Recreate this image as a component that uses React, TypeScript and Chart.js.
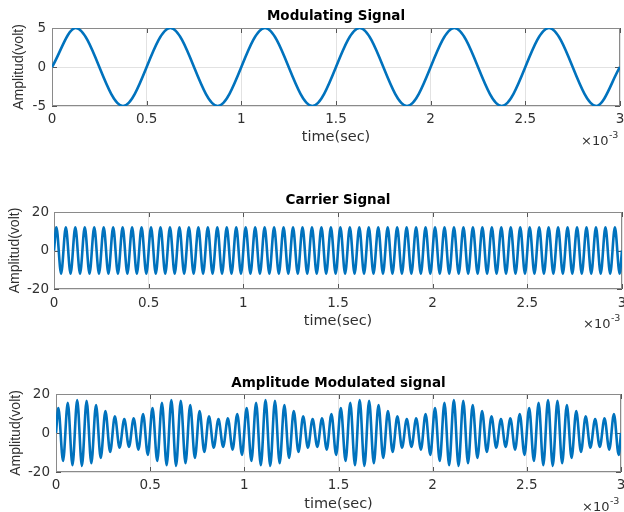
import React, { useEffect, useRef } from "react";
import { Chart, registerables } from "chart.js";

Chart.register(...registerables);

// ---------------- data (time in units of 1e-3 s) ----------------
const xTickValues = [0, 0.5, 1, 1.5, 2, 2.5, 3];
const xTickLabels = ["0", "0.5", "1", "1.5", "2", "2.5", "3"];
const modTickValues = [-5, 0, 5];
const modTickLabels = ["-5", "0", "5"];
const sigTickValues = [-20, 0, 20];
const sigTickLabels = ["-20", "0", "20"];

const titles = ["Modulating Signal", "Carrier Signal", "Amplitude Modulated signal"];
const xAxisLabel = "time(sec)";
const yAxisLabel = "Amplitud(volt)";

// Modulating signal: zero at start/end, peaks and troughs in between
const modTime = [0, 0.125, 0.375, 0.625, 0.875, 1.125, 1.375, 1.625, 1.875, 2.125, 2.375, 2.625, 2.875, 3];
const modValue = [0, 5, -5, 5, -5, 5, -5, 5, -5, 5, -5, 5, -5, 0];

// Carrier / AM: zero at the ends, every peak and trough in between
const timeMs = [
  0,
  0.0125, 0.0375, 0.0625, 0.0875,
  0.1125, 0.1375, 0.1625, 0.1875,
  0.2125, 0.2375, 0.2625, 0.2875,
  0.3125, 0.3375, 0.3625, 0.3875,
  0.4125, 0.4375, 0.4625, 0.4875,
  0.5125, 0.5375, 0.5625, 0.5875,
  0.6125, 0.6375, 0.6625, 0.6875,
  0.7125, 0.7375, 0.7625, 0.7875,
  0.8125, 0.8375, 0.8625, 0.8875,
  0.9125, 0.9375, 0.9625, 0.9875,
  1.0125, 1.0375, 1.0625, 1.0875,
  1.1125, 1.1375, 1.1625, 1.1875,
  1.2125, 1.2375, 1.2625, 1.2875,
  1.3125, 1.3375, 1.3625, 1.3875,
  1.4125, 1.4375, 1.4625, 1.4875,
  1.5125, 1.5375, 1.5625, 1.5875,
  1.6125, 1.6375, 1.6625, 1.6875,
  1.7125, 1.7375, 1.7625, 1.7875,
  1.8125, 1.8375, 1.8625, 1.8875,
  1.9125, 1.9375, 1.9625, 1.9875,
  2.0125, 2.0375, 2.0625, 2.0875,
  2.1125, 2.1375, 2.1625, 2.1875,
  2.2125, 2.2375, 2.2625, 2.2875,
  2.3125, 2.3375, 2.3625, 2.3875,
  2.4125, 2.4375, 2.4625, 2.4875,
  2.5125, 2.5375, 2.5625, 2.5875,
  2.6125, 2.6375, 2.6625, 2.6875,
  2.7125, 2.7375, 2.7625, 2.7875,
  2.8125, 2.8375, 2.8625, 2.8875,
  2.9125, 2.9375, 2.9625, 2.9875,
  3,
];

const carrierValue = [
  0,
  12, -12, 12, -12, 12, -12, 12, -12, 12, -12, 12, -12, 12, -12, 12, -12, 12, -12, 12, -12,
  12, -12, 12, -12, 12, -12, 12, -12, 12, -12, 12, -12, 12, -12, 12, -12, 12, -12, 12, -12,
  12, -12, 12, -12, 12, -12, 12, -12, 12, -12, 12, -12, 12, -12, 12, -12, 12, -12, 12, -12,
  12, -12, 12, -12, 12, -12, 12, -12, 12, -12, 12, -12, 12, -12, 12, -12, 12, -12, 12, -12,
  12, -12, 12, -12, 12, -12, 12, -12, 12, -12, 12, -12, 12, -12, 12, -12, 12, -12, 12, -12,
  12, -12, 12, -12, 12, -12, 12, -12, 12, -12, 12, -12, 12, -12, 12, -12, 12, -12, 12, -12,
  0,
];

const amValue = [
  0,
  12.8, -14.3, 15.5, -16.5, 16.9, -16.9, 16.5, -15.5, 14.3, -12.8,
  11.2, -9.7, 8.5, -7.5, 7.1, -7.1, 7.5, -8.5, 9.7, -11.2,
  12.8, -14.3, 15.5, -16.5, 16.9, -16.9, 16.5, -15.5, 14.3, -12.8,
  11.2, -9.7, 8.5, -7.5, 7.1, -7.1, 7.5, -8.5, 9.7, -11.2,
  12.8, -14.3, 15.5, -16.5, 16.9, -16.9, 16.5, -15.5, 14.3, -12.8,
  11.2, -9.7, 8.5, -7.5, 7.1, -7.1, 7.5, -8.5, 9.7, -11.2,
  12.8, -14.3, 15.5, -16.5, 16.9, -16.9, 16.5, -15.5, 14.3, -12.8,
  11.2, -9.7, 8.5, -7.5, 7.1, -7.1, 7.5, -8.5, 9.7, -11.2,
  12.8, -14.3, 15.5, -16.5, 16.9, -16.9, 16.5, -15.5, 14.3, -12.8,
  11.2, -9.7, 8.5, -7.5, 7.1, -7.1, 7.5, -8.5, 9.7, -11.2,
  12.8, -14.3, 15.5, -16.5, 16.9, -16.9, 16.5, -15.5, 14.3, -12.8,
  11.2, -9.7, 8.5, -7.5, 7.1, -7.1, 7.5, -8.5, 9.7, -11.2,
  0,
];

// ---------------- layout / style ----------------
const W = 624;
const H = 512;
const XH = 40;
const LINE_BLUE = "#0072BD";
const TEXT = "#303030";
const TICK_FONT = 13.5;
const XLABEL_FONT = 14.5;
const YLABEL_FONT = 14;
const TITLE_FONT = 13.5;

type Panel = {
  title: string;
  xs: number[];
  ys: number[];
  yMin: number;
  yMax: number;
  yTicks: number[];
  yLabels: string[];
  box: { l: number; r: number; t: number; b: number };
  titleMid: number;
  xTickPad: number;
  yTickPad: number;
  yTitlePad: number;
  xTitlePadBottom: number;
};

const panels: Panel[] = [
  {
    title: titles[0], xs: modTime, ys: modValue, yMin: -5, yMax: 5,
    yTicks: modTickValues, yLabels: modTickLabels,
    box: { l: 52, r: 620, t: 28, b: 106 },
    titleMid: 16.5, xTickPad: 4.9, yTickPad: 6, yTitlePad: 10.4, xTitlePadBottom: 0.3,
  },
  {
    title: titles[1], xs: timeMs, ys: carrierValue, yMin: -20, yMax: 20,
    yTicks: sigTickValues, yLabels: sigTickLabels,
    box: { l: 54, r: 622, t: 212, b: 289 },
    titleMid: 200.5, xTickPad: 5.9, yTickPad: 5, yTitlePad: 6.7, xTitlePadBottom: -0.7,
  },
  {
    title: titles[2], xs: timeMs, ys: amValue, yMin: -20, yMax: 20,
    yTicks: sigTickValues, yLabels: sigTickLabels,
    box: { l: 56, r: 621, t: 394, b: 472 },
    titleMid: 383.5, xTickPad: 4.9, yTickPad: 6, yTitlePad: 7.4, xTitlePadBottom: -0.7,
  },
];

const framePlugin = {
  id: "matlabFrame",
  beforeDatasetsDraw(chart: any) {
    const { ctx, chartArea: a, scales } = chart;
    ctx.save();
    ctx.lineWidth = 1;
    ctx.strokeStyle = "#555555";
    ctx.beginPath();
    const tl = 5;
    scales.x.ticks.forEach((t: any) => {
      const px = Math.round(scales.x.getPixelForValue(t.value)) + 0.5;
      ctx.moveTo(px, a.bottom);
      ctx.lineTo(px, a.bottom - tl);
      ctx.moveTo(px, a.top);
      ctx.lineTo(px, a.top + tl);
    });
    scales.y.ticks.forEach((t: any) => {
      const py = Math.round(scales.y.getPixelForValue(t.value)) + 0.5;
      ctx.moveTo(a.left, py);
      ctx.lineTo(a.left + tl, py);
      ctx.moveTo(a.right, py);
      ctx.lineTo(a.right - tl, py);
    });
    ctx.stroke();
    ctx.strokeStyle = "#8a8a8a";
    ctx.strokeRect(
      Math.round(a.left) + 0.5,
      Math.round(a.top) + 0.5,
      Math.round(a.right) - Math.round(a.left) - 1,
      Math.round(a.bottom) - Math.round(a.top) - 1
    );
    ctx.restore();
  },
  afterDraw(chart: any) {
    const { ctx, chartArea: a } = chart;
    ctx.save();
    ctx.fillStyle = TEXT;
    ctx.textAlign = "left";
    ctx.textBaseline = "alphabetic";
    ctx.font = '13px "DejaVu Sans"';
    const x0 = a.right - 39;
    const yb = a.bottom + 39;
    ctx.fillText("\u00d710", x0, yb);
    const w = ctx.measureText("\u00d710").width;
    ctx.font = '9.5px "DejaVu Sans"';
    ctx.fillText("-3", x0 + w + 0.5, yb - 7);
    ctx.restore();
  },
};

function makeConfig(p: Panel): any {
  const titleLH = TITLE_FONT * 1.2;
  const padTop = p.titleMid - titleLH / 2;
  const padBottom = p.box.t - padTop - titleLH;
  return {
    type: "line",
    data: {
      datasets: [
        {
          data: p.xs.map((x, i) => ({ x, y: p.ys[i] })),
          borderColor: LINE_BLUE,
          borderWidth: 2.6,
          pointRadius: 0,
          pointHoverRadius: 0,
          cubicInterpolationMode: "monotone",
          fill: false,
        },
      ],
    },
    options: {
      animation: false,
      responsive: false,
      devicePixelRatio: 1,
      events: [],
      layout: {
        padding: { left: 0, top: 0, right: W - p.box.r, bottom: H - p.box.b - XH },
      },
      plugins: {
        legend: { display: false },
        tooltip: { enabled: false },
        title: {
          display: true,
          fullSize: false,
          text: p.title,
          color: "#000000",
          font: { family: "DejaVu Sans", size: TITLE_FONT, weight: "bold", lineHeight: 1.2 },
          padding: { top: padTop, bottom: padBottom },
        },
      },
      scales: {
        x: {
          type: "linear",
          min: 0,
          max: 3,
          afterBuildTicks: (s: any) => {
            s.ticks = xTickValues.map((v) => ({ value: v }));
          },
          afterFit: (s: any) => {
            s.height = XH;
            s.paddingLeft = 0;
            s.paddingRight = 0;
          },
          grid: { color: "#e2e2e2", lineWidth: 1, drawTicks: false },
          border: { display: false },
          ticks: {
            padding: p.xTickPad,
            color: TEXT,
            autoSkip: false,
            maxRotation: 0,
            font: { family: "DejaVu Sans", size: TICK_FONT, lineHeight: 1.2 },
            callback: (_v: any, i: number) => xTickLabels[i],
          },
          title: {
            display: true,
            text: xAxisLabel,
            color: TEXT,
            font: { family: "DejaVu Sans", size: XLABEL_FONT, lineHeight: 1.2 },
            padding: { top: 0, bottom: p.xTitlePadBottom },
          },
        },
        y: {
          type: "linear",
          min: p.yMin,
          max: p.yMax,
          afterBuildTicks: (s: any) => {
            s.ticks = p.yTicks.map((v) => ({ value: v }));
          },
          afterFit: (s: any) => {
            s.width = p.box.l;
            s.paddingTop = 0;
            s.paddingBottom = 0;
          },
          grid: { color: "#e2e2e2", lineWidth: 1, drawTicks: false },
          border: { display: false },
          ticks: {
            padding: p.yTickPad,
            color: TEXT,
            autoSkip: false,
            font: { family: "DejaVu Sans", size: TICK_FONT, lineHeight: 1.2 },
            callback: (_v: any, i: number) => p.yLabels[i],
          },
          title: {
            display: true,
            text: yAxisLabel,
            color: TEXT,
            font: { family: "Liberation Sans", size: YLABEL_FONT, lineHeight: 1.2 },
            padding: { top: p.yTitlePad, bottom: 0 },
          },
        },
      },
    },
    plugins: [framePlugin],
  };
}

function PanelChart({ panel }: { panel: Panel }) {
  const ref = useRef<HTMLCanvasElement | null>(null);
  useEffect(() => {
    if (!ref.current) return;
    const chart = new Chart(ref.current, makeConfig(panel));
    return () => chart.destroy();
  }, [panel]);
  return (
    <canvas
      ref={ref}
      width={W}
      height={H}
      style={{ position: "absolute", left: 0, top: 0, width: W, height: H }}
    />
  );
}

export default function App() {
  return (
    <div
      style={{
        position: "fixed",
        left: 0,
        top: 0,
        width: W,
        height: H,
        background: "#ffffff",
        overflow: "hidden",
      }}
    >
      {panels.map((p, i) => (
        <PanelChart key={i} panel={p} />
      ))}
    </div>
  );
}
